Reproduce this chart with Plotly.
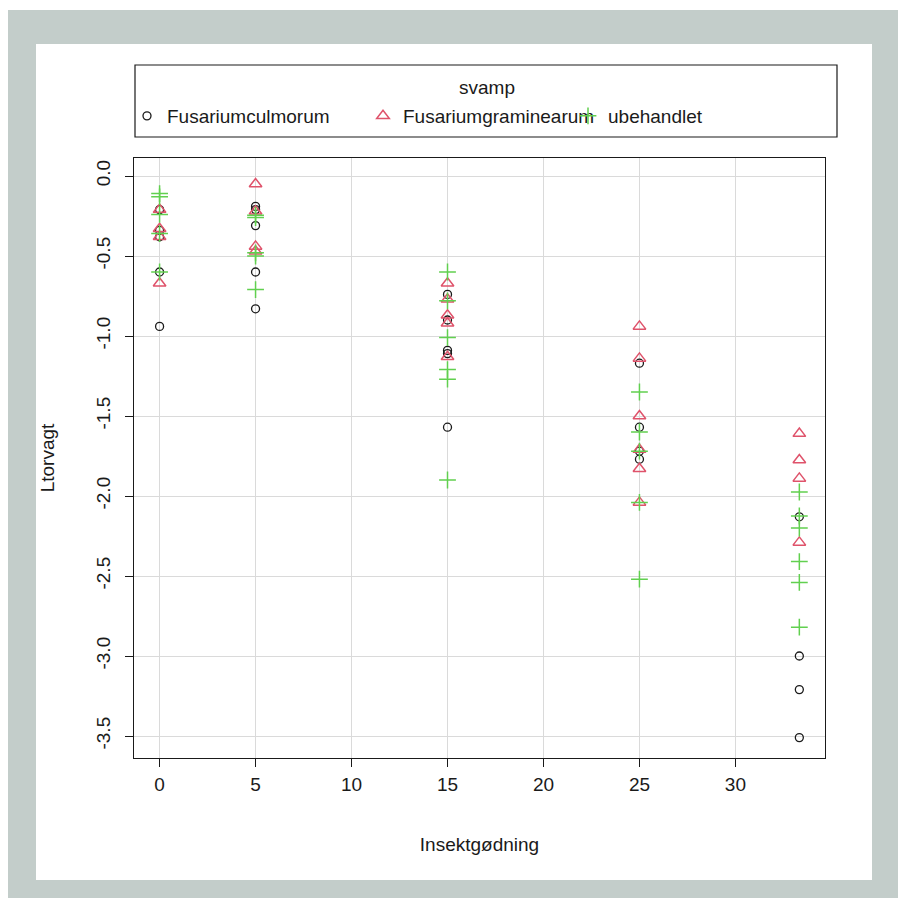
import plotly.graph_objects as go

# ---- data ----
svamp_names = ["Fusariumculmorum", "Fusariumgraminearum", "ubehandlet"]

culm_x = [0, 0, 0, 0, 0,
          5, 5, 5, 5, 5,
          15, 15, 15, 15, 15,
          25, 25, 25, 25,
          33.33, 33.33, 33.33, 33.33]
culm_y = [-0.21, -0.34, -0.38, -0.60, -0.94,
          -0.19, -0.21, -0.31, -0.60, -0.83,
          -0.74, -0.90, -1.09, -1.11, -1.57,
          -1.17, -1.57, -1.72, -1.77,
          -2.13, -3.00, -3.21, -3.51]

gram_x = [0, 0, 0, 0,
          5, 5, 5, 5,
          15, 15, 15, 15, 15,
          25, 25, 25, 25, 25, 25,
          33.33, 33.33, 33.33, 33.33]
gram_y = [-0.21, -0.33, -0.38, -0.67,
          -0.05, -0.22, -0.44, -0.47,
          -0.67, -0.77, -0.87, -0.92, -1.13,
          -0.94, -1.14, -1.50, -1.71, -1.83, -2.04,
          -1.61, -1.775, -1.89, -2.29]

ube_x = [0, 0, 0, 0, 0,
         5, 5, 5, 5, 5,
         15, 15, 15, 15, 15, 15,
         25, 25, 25, 25, 25,
         33.33, 33.33, 33.33, 33.33, 33.33, 33.33]
ube_y = [-0.11, -0.13, -0.24, -0.36, -0.60,
         -0.245, -0.26, -0.48, -0.50, -0.71,
         -0.60, -0.78, -1.01, -1.21, -1.27, -1.90,
         -1.35, -1.60, -1.72, -2.04, -2.52,
         -1.975, -2.125, -2.20, -2.41, -2.54, -2.82]

x_ticks = [0, 5, 10, 15, 20, 25, 30]
y_ticks = [0.0, -0.5, -1.0, -1.5, -2.0, -2.5, -3.0, -3.5]
y_ticklabels = ["0.0", "-0.5", "-1.0", "-1.5", "-2.0", "-2.5", "-3.0", "-3.5"]

# ---- layout geometry ----
OFF = 8                      # page body margin: screen = figure + OFF
W, H = 890, 890
ML, MT = 134 - OFF, 158 - OFF
PW, PH = 691, 600
MR, MB = W - ML - PW, H - MT - PH


def px(xs):
    """screen x pixel -> paper x"""
    return (xs - OFF - ML) / PW


def py(ys):
    """screen y pixel -> paper y"""
    return (H - MB - (ys - OFF)) / PH


FONT = "Liberation Sans, Arial, sans-serif"
BLACK = "#1a1a1a"
RED = "#DF536B"
GREEN = "#61D04F"

fig = go.Figure()
fig.add_trace(go.Scatter(
    x=culm_x, y=culm_y, mode="markers", name=svamp_names[0], legend="legend",
    marker=dict(symbol="circle-open", size=8, color=BLACK, line=dict(width=1.3, color=BLACK))))
fig.add_trace(go.Scatter(
    x=gram_x, y=gram_y, mode="markers", name=svamp_names[1], legend="legend2",
    marker=dict(symbol="triangle-up-open", size=11, color=RED, line=dict(width=1.5, color=RED))))
fig.add_trace(go.Scatter(
    x=ube_x, y=ube_y, mode="markers", name=svamp_names[2], legend="legend3",
    marker=dict(symbol="cross-thin", size=12, color=GREEN, line=dict(width=1.5, color=GREEN))))

leg_common = dict(orientation="h", xanchor="left", yanchor="middle", y=py(116),
                  bgcolor="rgba(0,0,0,0)", borderwidth=0,
                  font=dict(family=FONT, size=19, color=BLACK), itemclick=False)

fig.update_layout(
    width=W, height=H,
    margin=dict(l=ML, r=MR, t=MT, b=MB),
    paper_bgcolor="white",
    plot_bgcolor="rgba(0,0,0,0)",
    font=dict(family=FONT, size=19, color=BLACK),
    showlegend=True,
    legend=dict(x=px(127), **leg_common),
    legend2=dict(x=px(363), **leg_common),
    legend3=dict(x=px(568), **leg_common),
    xaxis=dict(
        range=[-1.3333, 34.6667], tickvals=x_ticks, ticktext=[str(v) for v in x_ticks],
        showgrid=True, gridcolor="#dadada", gridwidth=1, zeroline=False,
        showline=True, mirror=True, linecolor=BLACK, linewidth=1.2,
        ticks="outside", ticklen=8, tickcolor=BLACK, tickwidth=1.2,
        ticklabelstandoff=1,
        title=dict(text="Insektgødning", standoff=43, font=dict(size=19)),
    ),
    yaxis=dict(
        range=[-3.6375, 0.1125], tickvals=y_ticks, ticktext=y_ticklabels,
        tickangle=-90,
        showgrid=True, gridcolor="#dadada", gridwidth=1, zeroline=False,
        showline=True, mirror=True, linecolor=BLACK, linewidth=1.2,
        ticks="outside", ticklen=8, tickcolor=BLACK, tickwidth=1.2,
        ticklabelstandoff=7,
        title=dict(text="Ltorvagt", standoff=33, font=dict(size=19)),
    ),
    shapes=[
        dict(type="rect", xref="paper", yref="paper", layer="below",
             x0=px(0), x1=px(900), y0=py(898), y1=py(10),
             fillcolor="#c3cdca", line=dict(width=0)),
        dict(type="rect", xref="paper", yref="paper", layer="below",
             x0=px(36), x1=px(872), y0=py(880), y1=py(44),
             fillcolor="white", line=dict(width=0)),
        dict(type="rect", xref="paper", yref="paper",
             x0=px(135), x1=px(837), y0=py(137), y1=py(65),
             fillcolor="rgba(0,0,0,0)", line=dict(width=1.2, color=BLACK)),
    ],
    annotations=[
        dict(text="svamp", xref="paper", yref="paper", x=px(487), y=py(88),
             showarrow=False, xanchor="center", yanchor="middle",
             font=dict(family=FONT, size=19, color=BLACK)),
    ],
)

fig.write_html("out.html")
